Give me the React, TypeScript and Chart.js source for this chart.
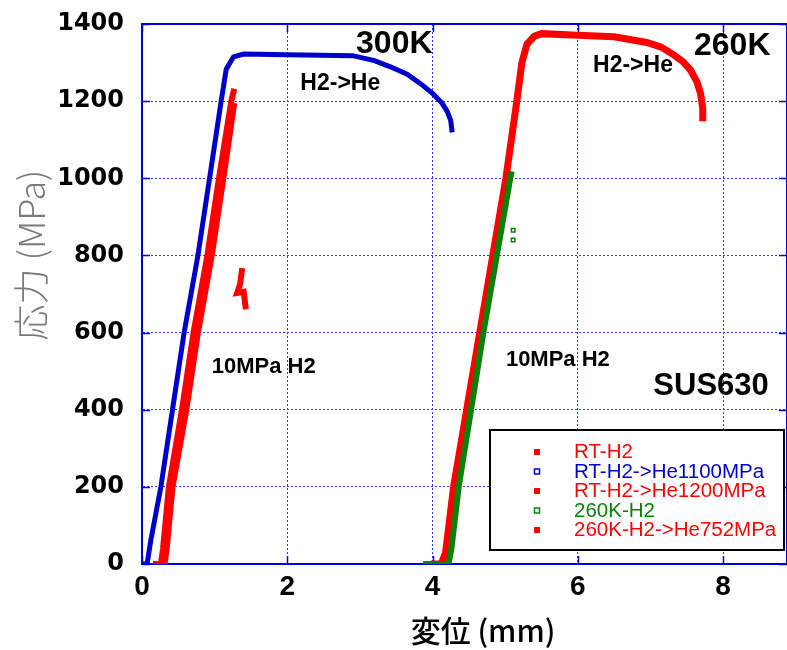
import React, { useEffect, useRef } from "react";
import { Chart, registerables } from "chart.js";

Chart.register(...registerables);

// ---------- data ----------
const seriesNames = ["RT-H2", "RT-H2->He1100MPa", "RT-H2->He1200MPa", "260K-H2", "260K-H2->He752MPa"];

const xTickValues = [0, 2, 4, 6, 8];
const yTickValues = [0, 200, 400, 600, 800, 1000, 1200, 1400];

// RT-H2 (red)
const rtH2X = [0.15, 0.26, 0.29, 0.37, 0.55, 0.71, 0.90, 1.06, 1.23, 1.27];
const rtH2Y = [0, 0, 40, 200, 400, 600, 800, 1000, 1200, 1232];

// RT-H2->He1100MPa (blue)
const rt1100X = [0.0, 0.07, 0.12, 0.26, 0.42, 0.58, 0.77, 0.93, 1.09, 1.16, 1.26, 1.40, 2.0, 2.9, 3.2, 3.42, 3.65, 3.83, 4.0, 4.13, 4.2, 4.25, 4.27];
const rt1100Y = [0, 0, 60, 200, 400, 600, 800, 1000, 1200, 1283, 1315, 1322, 1320, 1318, 1305, 1289, 1270, 1246, 1220, 1195, 1174, 1150, 1119];

// RT-H2->He1200MPa (red) – main branch, gap, then short fragment
const rt1200X = [0.22, 0.31, 0.34, 0.42, 0.61, 0.77, 0.96, 1.12, 1.27, 1.30, 1.38, 1.35, 1.31, 1.40, 1.43];
const rt1200Y = [0, 0, 40, 200, 400, 600, 800, 1000, 1195, null, 767, 725, 703, 706, 660];

// 260K-H2 (green)
const k260X = [3.87, 4.22, 4.26, 4.36, 4.53, 4.70, 4.885, 5.07, 5.09];
const k260Y = [0, 0, 40, 200, 400, 600, 800, 1000, 1018];
const k260PtsX = [5.11, 5.11];
const k260PtsY = [865, 840];

// 260K-H2->He752MPa (red)
const k752X = [3.98, 4.12, 4.18, 4.29, 4.47, 4.65, 4.83, 5.01, 5.16, 5.23, 5.30, 5.40, 5.50, 6.0, 6.5, 6.95, 7.15, 7.32, 7.45, 7.55, 7.64, 7.69, 7.72, 7.72];
const k752Y = [0, 0, 30, 200, 400, 600, 800, 1000, 1200, 1300, 1348, 1368, 1375, 1371, 1367, 1352, 1340, 1320, 1302, 1281, 1250, 1220, 1180, 1148];

// annotations (text, anchor in data units)
const noteTexts = ["300K", "260K", "H2->He", "H2->He", "10MPa H2", "10MPa H2", "SUS630"];
const noteX = [4.0, 7.6, 2.18, 6.21, 0.96, 5.01, 7.04];
const noteY = [1325, 1320, 1229, 1276, 495, 513, 438];

const xTitle = "変位 (mm)";
const yTitle = "応力 (MPa)";

// ---------- styles ----------
const RED = "#ff0000";
const BLUE = "#0000cc";
const GREEN = "#0a820a";
const AXIS = "#0000dd";
const GRID = "#3535ff";

const toPts = (xs: number[], ys: (number | null)[]) => xs.map((x, i) => ({ x, y: ys[i] }));

const noteStyles = [
  { font: "bold 32px 'Liberation Sans', Arial, sans-serif", align: "right" },
  { font: "bold 32px 'Liberation Sans', Arial, sans-serif", align: "left" },
  { font: "bold 23px 'Liberation Sans', Arial, sans-serif", align: "left" },
  { font: "bold 23px 'Liberation Sans', Arial, sans-serif", align: "left" },
  { font: "bold 22px 'Liberation Sans', Arial, sans-serif", align: "left" },
  { font: "bold 22px 'Liberation Sans', Arial, sans-serif", align: "left" },
  { font: "bold 31px 'Liberation Sans', Arial, sans-serif", align: "left" },
];

const legendStyles = [
  { color: RED, fill: true },
  { color: BLUE, fill: false },
  { color: RED, fill: true },
  { color: GREEN, fill: false },
  { color: RED, fill: true },
];

const framePlugin = {
  id: "framePlugin",
  beforeDatasetsDraw(chart: any) {
    const { ctx, chartArea: a, scales } = chart;
    const x = scales.x;
    const y = scales.y;
    ctx.save();
    ctx.strokeStyle = AXIS;
    ctx.lineWidth = 2;
    ctx.setLineDash([]);
    ctx.beginPath();
    ctx.moveTo(a.left, a.bottom);
    ctx.lineTo(a.left, a.top);
    ctx.lineTo(a.right, a.top);
    ctx.lineTo(a.right, a.bottom);
    ctx.stroke();
    ctx.lineWidth = 1.5;
    ctx.beginPath();
    for (const v of yTickValues) {
      const py = Math.round(y.getPixelForValue(v)) + 0.5;
      ctx.moveTo(a.left, py);
      ctx.lineTo(a.left + 8, py);
      ctx.moveTo(a.right - 8, py);
      ctx.lineTo(a.right, py);
    }
    for (const v of xTickValues) {
      const px = Math.round(x.getPixelForValue(v)) + 0.5;
      ctx.moveTo(px, a.bottom);
      ctx.lineTo(px, a.bottom - 8);
      ctx.moveTo(px, a.top);
      ctx.lineTo(px, a.top + 8);
    }
    ctx.stroke();
    ctx.restore();
  },
  afterDatasetsDraw(chart: any) {
    const { ctx, scales } = chart;
    const x = scales.x;
    const y = scales.y;
    ctx.save();
    // annotations
    ctx.fillStyle = "#000";
    ctx.textBaseline = "alphabetic";
    noteTexts.forEach((t, i) => {
      ctx.font = noteStyles[i].font;
      ctx.textAlign = noteStyles[i].align as CanvasTextAlign;
      ctx.fillText(t, x.getPixelForValue(noteX[i]), y.getPixelForValue(noteY[i]));
    });

    // legend box
    const bx = 490;
    const by = 430;
    const bw = 294;
    const bh = 120;
    ctx.fillStyle = "#fff";
    ctx.fillRect(bx, by, bw, bh);
    ctx.strokeStyle = "#000";
    ctx.lineWidth = 2;
    ctx.strokeRect(bx, by, bw, bh);
    ctx.font = "20.5px 'Liberation Sans', Arial, sans-serif";
    ctx.textAlign = "left";
    ctx.textBaseline = "alphabetic";
    seriesNames.forEach((name, i) => {
      const st = legendStyles[i];
      const rowBase = by + 28 + i * 19.5;
      const mx = bx + 47;
      const my = rowBase - 6;
      if (st.fill) {
        ctx.fillStyle = st.color;
        ctx.fillRect(mx - 3, my - 3, 6, 6);
      } else {
        ctx.strokeStyle = st.color;
        ctx.lineWidth = 1.5;
        ctx.strokeRect(mx - 2.5, my - 2.5, 5, 5);
      }
      ctx.fillStyle = st.color;
      ctx.fillText(name, bx + 84, rowBase);
    });

    // axis titles
    ctx.fillStyle = "#000";
    ctx.font = "500 30px 'Noto Sans CJK JP', sans-serif";
    ctx.textAlign = "center";
    ctx.textBaseline = "middle";
    ctx.fillText(xTitle, 483, 631);
    ctx.translate(31, 255);
    ctx.rotate(-Math.PI / 2);
    ctx.fillStyle = "#7a7a7a";
    ctx.font = "300 36px 'Noto Sans CJK JP', sans-serif";
    ctx.fillText(yTitle, 0, 0);
    ctx.restore();
  },
};

export default function App() {
  const ref = useRef<HTMLCanvasElement | null>(null);
  useEffect(() => {
    if (!ref.current) return;
    const chart = new Chart(ref.current, {
      type: "scatter",
      data: {
        datasets: [
          {
            label: seriesNames[3] + " pts",
            data: toPts(k260PtsX, k260PtsY),
            showLine: false,
            pointStyle: "rect",
            pointRadius: 2.5,
            borderWidth: 1.5,
            borderColor: GREEN,
            backgroundColor: "#fff",
          },
          {
            label: seriesNames[3],
            data: toPts(k260X, k260Y),
            showLine: true,
            pointRadius: 0,
            borderWidth: 6,
            borderColor: GREEN,
            backgroundColor: GREEN,
          },
          {
            label: seriesNames[4],
            data: toPts(k752X, k752Y),
            showLine: true,
            pointRadius: 0,
            borderWidth: 7,
            borderColor: RED,
            backgroundColor: RED,
          },
          {
            label: seriesNames[1],
            data: toPts(rt1100X, rt1100Y),
            showLine: true,
            pointRadius: 0,
            borderWidth: 5,
            borderColor: BLUE,
            backgroundColor: BLUE,
          },
          {
            label: seriesNames[0],
            data: toPts(rtH2X, rtH2Y),
            showLine: true,
            pointRadius: 0,
            borderWidth: 6,
            borderColor: RED,
            backgroundColor: RED,
          },
          {
            label: seriesNames[2],
            data: toPts(rt1200X, rt1200Y),
            showLine: true,
            spanGaps: false,
            pointRadius: 0,
            borderWidth: 6,
            borderColor: RED,
            backgroundColor: RED,
          },
        ],
      },
      options: {
        animation: false,
        responsive: false,
        maintainAspectRatio: false,
        layout: { autoPadding: false, padding: { top: 24, right: 0, left: 0, bottom: 0 } },
        plugins: { legend: { display: false }, tooltip: { enabled: false } },
        scales: {
          x: {
            type: "linear",
            min: 0,
            max: 8.88,
            afterFit: (s: any) => {
              s.height = 86;
              s.paddingLeft = 0;
              s.paddingRight = 0;
            },
            ticks: {
              stepSize: 2,
              includeBounds: false,
              padding: 6,
              color: "#000",
              callback: (v: any) => String(v),
              font: { family: "'Liberation Sans Narrow', 'Liberation Sans', sans-serif", size: 28, weight: "bold" },
            },
            grid: { color: GRID, lineWidth: 1, drawTicks: false },
            border: { display: true, color: AXIS, width: 2, dash: [2, 2] },
          },
          y: {
            type: "linear",
            min: 0,
            max: 1400,
            afterFit: (s: any) => {
              s.width = 142;
              s.paddingTop = 0;
              s.paddingBottom = 0;
            },
            ticks: {
              stepSize: 200,
              padding: 18,
              color: "#000",
              callback: (v: any) => String(v),
              font: { family: "'DejaVu Sans', sans-serif", size: 24, weight: "bold" },
            },
            grid: { color: GRID, lineWidth: 1, drawTicks: false },
            border: { display: true, color: AXIS, width: 2, dash: [2, 2] },
          },
        },
      },
      plugins: [framePlugin],
    });
    return () => chart.destroy();
  }, []);
  return (
    <div style={{ position: "absolute", left: 0, top: 0, width: 787, height: 650, background: "#fff" }}>
      <canvas ref={ref} width={787} height={650} style={{ display: "block", width: 787, height: 650 }} />
    </div>
  );
}
